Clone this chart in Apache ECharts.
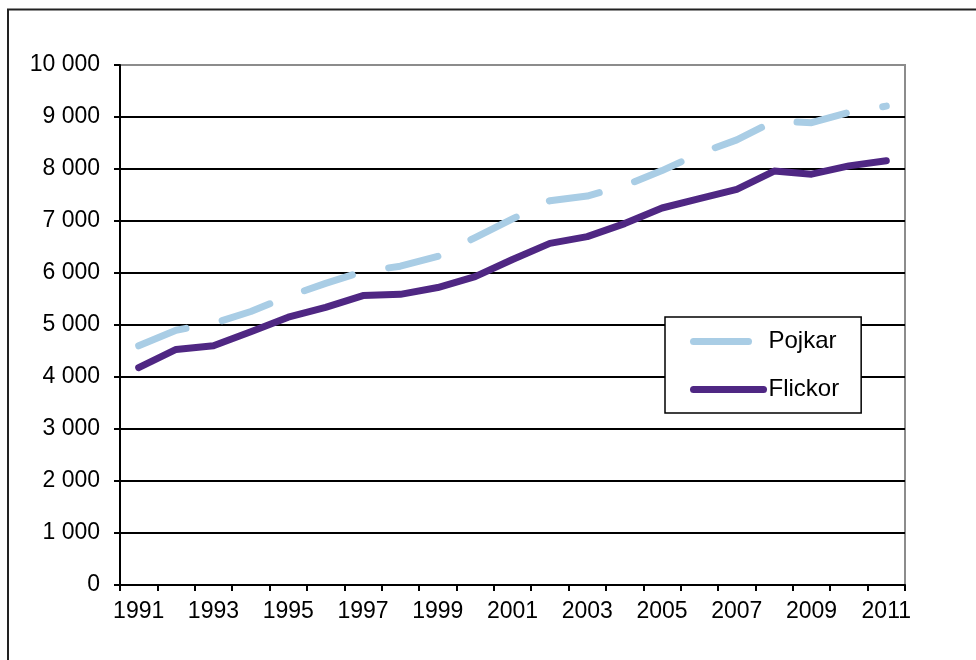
<!DOCTYPE html>
<html>
<head>
<meta charset="utf-8">
<script src="https://cdn.jsdelivr.net/npm/echarts@6/dist/echarts.min.js"></script>
<style>
html,body{margin:0;padding:0;background:#fff;}
#chart{width:976px;height:660px;}
</style>
</head>
<body>
<div id="chart"></div>
<script>
const years = ['1991','1992','1993','1994','1995','1996','1997','1998','1999','2000','2001','2002','2003','2004','2005','2006','2007','2008','2009','2010','2011'];
const pojkar = [4600,4900,5030,5260,5550,5800,6030,6130,6320,6680,7040,7390,7480,7680,7970,8300,8560,8920,8890,9090,9210];
const flickor = [4180,4530,4600,4870,5150,5340,5565,5590,5720,5930,6260,6570,6700,6950,7250,7430,7610,7960,7900,8060,8160];
const yTicks = {min: 0, max: 10000, step: 1000};
const seriesNames = ['Pojkar', 'Flickor'];

const FONT = '"Liberation Sans", Arial, sans-serif';
const cPoj = '#a9cde5';
const cFli = '#4f2783';

function fmt(v){ return String(v).replace(/\B(?=(\d{3})+(?!\d))/g, ' '); }

const gridColors = [];
for (let v = yTicks.min; v <= yTicks.max; v += yTicks.step) gridColors.push(v === yTicks.max ? '#8c8c8c' : '#000');

const chart = echarts.init(document.getElementById('chart'), null, {renderer: 'canvas'});
chart.setOption({
  backgroundColor: '#fff',
  animation: false,
  textStyle: {fontFamily: FONT},
  graphic: [{
    type: 'rect', silent: true, z: -10,
    shape: {x: 8, y: 9.5, width: 1200, height: 1000},
    style: {fill: null, stroke: '#222', lineWidth: 2}
  }],
  grid: {
    left: 120, right: 71, top: 65, bottom: 75,
    show: true, borderColor: '#8c8c8c', borderWidth: 2, backgroundColor: 'transparent'
  },
  legend: {
    orient: 'vertical',
    left: 665, top: 317,
    padding: [12, 22, 11, 25],
    itemGap: 23,
    itemWidth: 70, itemHeight: 7,
    backgroundColor: '#fff',
    borderColor: '#000', borderWidth: 1.5, borderRadius: 0,
    selectedMode: false,
    textStyle: {fontFamily: FONT, fontSize: 24, color: '#000', lineHeight: 25, padding: [0,0,0,0]},
    data: [
      {name: seriesNames[0], lineStyle: {color: cPoj, width: 7, cap: 'round', type: [55, 40]}, itemStyle: {color: cPoj, opacity: 0}},
      {name: seriesNames[1], lineStyle: {color: cFli, width: 7, cap: 'round', type: 'solid'}, itemStyle: {color: cFli, opacity: 0}}
    ]
  },
  xAxis: {
    type: 'category',
    data: years,
    boundaryGap: true,
    axisLine: {show: true, lineStyle: {color: '#000', width: 2}},
    axisTick: {show: true, interval: 0, length: 6, inside: false, lineStyle: {color: '#000', width: 2}},
    axisLabel: {interval: 1, margin: 15, fontSize: 23, color: '#000', fontFamily: FONT},
    splitLine: {show: false}
  },
  yAxis: {
    type: 'value',
    min: yTicks.min, max: yTicks.max, interval: yTicks.step,
    axisLine: {show: true, lineStyle: {color: '#000', width: 2}},
    axisTick: {show: true, length: 6, lineStyle: {color: '#000', width: 2}},
    axisLabel: {margin: 20, fontSize: 23, color: '#000', fontFamily: FONT, formatter: fmt},
    splitLine: {show: true, lineStyle: {color: gridColors, width: 1.8}}
  },
  series: [
    {
      name: seriesNames[0], type: 'line', data: pojkar, symbol: 'none', smooth: false,
      color: cPoj,
      lineStyle: {color: cPoj, width: 7, cap: 'round', join: 'round', type: [50.6, 37], dashOffset: 0},
      z: 3
    },
    {
      name: seriesNames[1], type: 'line', data: flickor, symbol: 'none', smooth: false,
      color: cFli,
      lineStyle: {color: cFli, width: 7, cap: 'round', join: 'round', type: 'solid'},
      z: 4
    }
  ]
});
</script>
</body>
</html>
